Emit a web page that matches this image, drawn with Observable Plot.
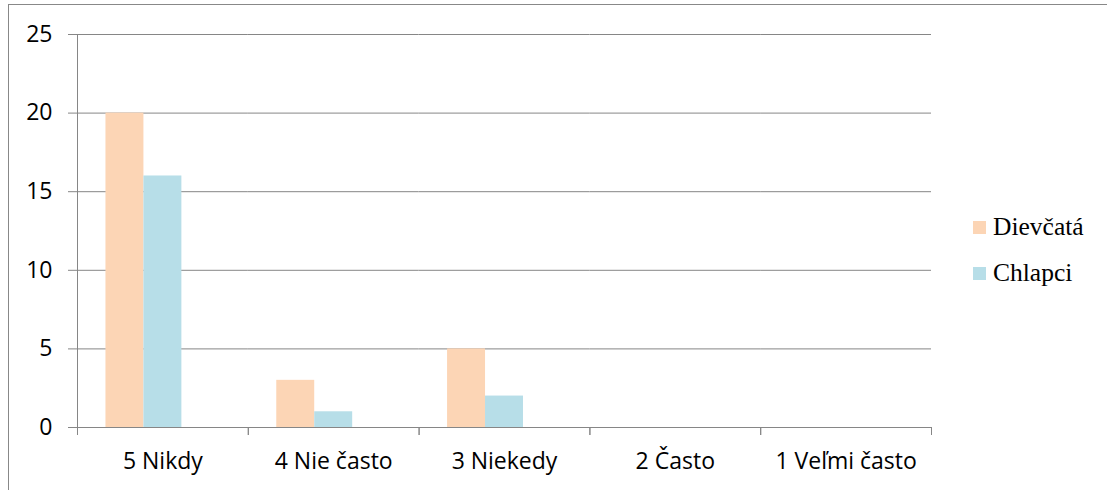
<!DOCTYPE html>
<html>
<head>
<meta charset="utf-8">
<script src="https://cdn.jsdelivr.net/npm/d3@7"></script>
<script src="https://cdn.jsdelivr.net/npm/@observablehq/plot@0.6"></script>
<style>
  html, body { margin: 0; padding: 0; background: #fff; }
  #wrap { position: relative; width: 1107px; height: 490px; overflow: hidden; background: #fff; }
  #border { position: absolute; left: 8px; top: 4px; width: 1200px; height: 600px; border: 1px solid #888; box-sizing: border-box; }
  #chart { position: absolute; left: 0; top: 0; }
  #legend { position: absolute; left: 973px; top: 204px; font-family: "Liberation Serif", "Times New Roman", serif; font-size: 25.5px; color: #000; }
  .item { display: flex; align-items: center; height: 46px; }
  .sw { width: 13px; height: 13px; margin-right: 7px; }
  .lbl { line-height: 1; }
</style>
</head>
<body>
<div id="wrap">
  <div id="border"></div>
  <div id="chart"></div>
  <div id="legend"></div>
</div>
<script>
const categories = ["5 Nikdy", "4 Nie často", "3 Niekedy", "2 Často", "1 Veľmi často"];
const series = ["Dievčatá", "Chlapci"];
const dievcata = [20, 3, 5, 0, 0];
const chlapci = [16, 1, 2, 0, 0];
const yTicks = [0, 5, 10, 15, 20, 25];
const colors = ["#FCD5B5", "#B7DEE8"];

const data = categories.flatMap((c, i) => [
  {category: c, series: series[0], value: dievcata[i]},
  {category: c, series: series[1], value: chlapci[i]}
]);

const gray = "#868686";
const halfBand = (1107 - 77 - 176) / categories.length / 2;

const chart = Plot.plot({
  width: 1107,
  height: 490,
  marginLeft: 77,
  marginRight: 176,
  marginTop: 34,
  marginBottom: 63,
  style: {fontFamily: "'Open Sans', sans-serif", fontSize: "23px", color: "#000", background: "transparent", overflow: "visible"},
  fx: {domain: categories, padding: 0, round: false, label: null},
  x: {domain: [...series, " "], paddingInner: 0, paddingOuter: 0.75, round: false, axis: null},
  y: {domain: [0, 25], label: null},
  color: {domain: series, range: colors},
  marks: [
    Plot.gridY(yTicks, {stroke: gray, strokeOpacity: 1}),
    Plot.barY(data, {fx: "category", x: "series", y: "value", fill: "series", insetLeft: 0, insetRight: 0}),
    Plot.axisY(yTicks, {tickSize: 9, tickPadding: 16, stroke: gray, strokeOpacity: 1, label: null}),
    Plot.frame({anchor: "left", stroke: gray, facet: "super"}),
    Plot.ruleY([0], {stroke: gray}),
    Plot.axisFx({anchor: "bottom", tickSize: 0, tickPadding: 25, label: null}),
    Plot.axisFx({anchor: "bottom", tickSize: 8, tickFormat: () => "", dx: -halfBand, stroke: gray, label: null}),
    Plot.axisFx([categories[categories.length - 1]], {anchor: "bottom", tickSize: 8, tickFormat: () => "", dx: halfBand, stroke: gray, label: null})
  ]
});
document.getElementById("chart").appendChild(chart);

const legend = document.getElementById("legend");
series.forEach((s, i) => {
  const item = document.createElement("div");
  item.className = "item";
  const sw = document.createElement("div");
  sw.className = "sw";
  sw.style.background = colors[i];
  const lbl = document.createElement("span");
  lbl.className = "lbl";
  lbl.textContent = s;
  item.appendChild(sw);
  item.appendChild(lbl);
  legend.appendChild(item);
});
</script>
</body>
</html>
